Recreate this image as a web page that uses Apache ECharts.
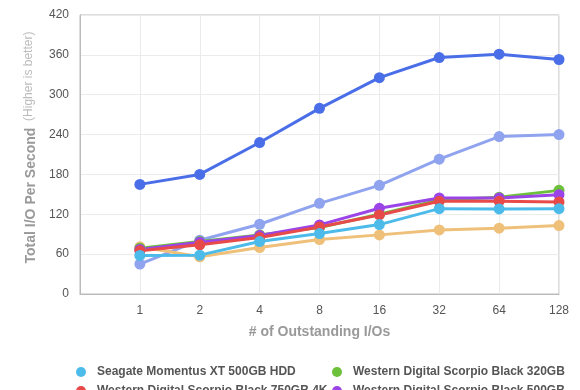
<!DOCTYPE html>
<html><head><meta charset="utf-8">
<script src="https://cdn.jsdelivr.net/npm/echarts@6/dist/echarts.min.js"></script>
<style>html,body{margin:0;padding:0;background:#fff}#c{width:580px;height:390px}</style>
</head><body><div id="c"></div>
<script>
const categories = ['', '1', '2', '4', '8', '16', '32', '64', '128'];
const yTicks = [0, 60, 120, 180, 240, 300, 360, 420];
const seagateXT500 = [null, 58, 58.5, 79, 91, 104.5, 128.5, 128, 128.5];
const wd320 = [null, 69, 79, 89, 100, 120, 141.5, 145.5, 156];
const wd750 = [null, 65, 74, 85, 101, 119, 139.5, 139.5, 138.5];
const wd500 = [null, 67, 78, 88, 104, 129, 144.5, 144.5, 149.5];
const seriesOrange = [null, 71, 56, 70, 82, 89, 96.5, 99, 103];
const seriesBlue = [null, 165, 180, 228, 279.5, 325.7, 356, 361, 353];
const seriesLavender = [null, 45, 81, 105, 136.5, 163.6, 203, 237, 240];

const names = {
  cyan: 'Seagate Momentus XT 500GB HDD',
  green: 'Western Digital Scorpio Black 320GB',
  red: 'Western Digital Scorpio Black 750GB 4K',
  purple: 'Western Digital Scorpio Black 500GB',
  orange: 'Seagate Momentus 7200.4 500GB',
  blue: 'Seagate Momentus XT 750GB SSHD',
  lavender: 'Seagate Momentus XT 750GB SSHD (Cold)'
};
const colors = {cyan:'#4dbbea', green:'#6cc03a', red:'#e84a4a', purple:'#9b45e8', orange:'#eec079', blue:'#4a6ee8', lavender:'#8fa3ef'};

function mk(key, data) {
  return {
    name: names[key], type: 'line', data: data,
    symbol: 'circle', symbolSize: 11, showSymbol: true,
    lineStyle: {width: 3, color: colors[key]},
    itemStyle: {color: colors[key]},
    emphasis: {disabled: true}, animation: false
  };
}
const font = 'Liberation Sans, Arial, Helvetica, sans-serif';
function lg(left, top, key) {
  return {left: left, top: top, orient: 'horizontal', icon: 'circle', itemWidth: 10, itemHeight: 10, itemGap: 4,
    padding: 0, textStyle: {color: '#555', fontSize: 12, fontWeight: 'bold', fontFamily: font, padding: [0, 0, 0, 6]},
    data: [names[key]]};
}

const chart = echarts.init(document.getElementById('c'), null, {renderer: 'canvas'});
chart.setOption({
  animation: false,
  textStyle: {fontFamily: font},
  grid: {left: 80, right: 21, top: 15, bottom: 96, show: true, borderColor: '#bbbbbb', borderWidth: 1, backgroundColor: 'transparent'},
  xAxis: {
    type: 'category', data: categories, boundaryGap: false,
    axisLine: {show: true, lineStyle: {color: '#bbbbbb'}},
    axisTick: {show: false},
    axisLabel: {color: '#555', fontSize: 12, margin: 11, fontFamily: font},
    splitLine: {show: true, lineStyle: {color: '#ebebeb'}},
    name: '# of Outstanding I/Os', nameLocation: 'middle', nameGap: 31,
    nameTextStyle: {color: '#999', fontSize: 14, fontWeight: 'bold', fontFamily: font}
  },
  yAxis: {
    type: 'value', min: yTicks[0], max: yTicks[yTicks.length - 1], interval: 60,
    axisLine: {show: true, lineStyle: {color: '#bbbbbb'}},
    axisTick: {show: false},
    axisLabel: {color: '#555', fontSize: 12, margin: 11, fontFamily: font},
    splitLine: {show: true, lineStyle: {color: '#ebebeb'}},
    name: '{a|Total I/O Per Second}  {b|(Higher is better)}', nameLocation: 'middle', nameGap: 40,
    nameTextStyle: {
      padding: [0, 0, 0, 14],
      rich: {
        a: {color: '#999', fontSize: 14, fontWeight: 'bold', fontFamily: font, verticalAlign: 'middle'},
        b: {color: '#bbb', fontSize: 12, fontFamily: font, verticalAlign: 'top', padding: [0, 0, 4, 0]}
      }
    }
  },
  legend: [
    lg(76, 366, 'cyan'), lg(332, 366, 'green'),
    lg(76, 385, 'red'), lg(332, 385, 'purple'),
    lg(76, 404, 'orange'), lg(332, 404, 'blue'),
    lg(76, 423, 'lavender')
  ],
  series: [
    mk('blue', seriesBlue),
    mk('lavender', seriesLavender),
    mk('orange', seriesOrange),
    mk('green', wd320),
    mk('purple', wd500),
    mk('red', wd750),
    mk('cyan', seagateXT500)
  ]
});
</script></body></html>
